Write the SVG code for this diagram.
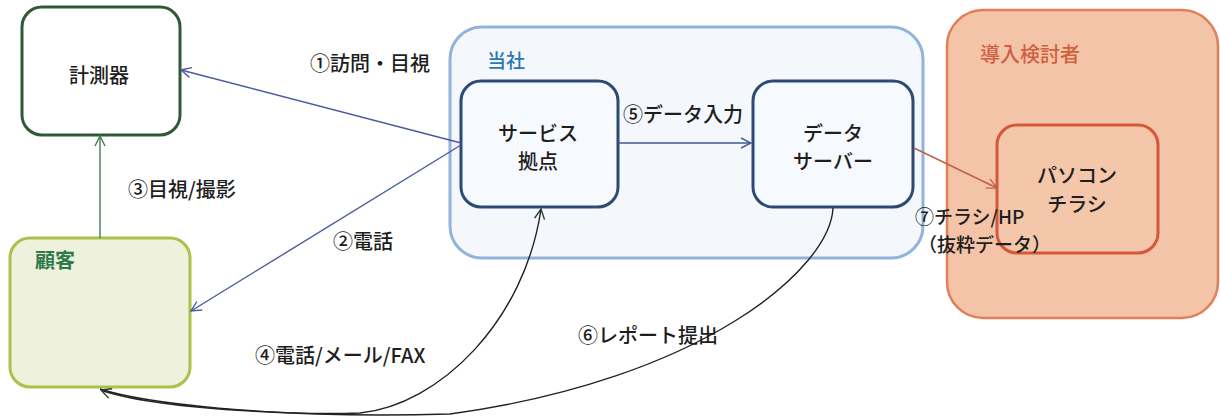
<svg xmlns="http://www.w3.org/2000/svg" width="1220" height="417" viewBox="0 0 1220 417">
<style>
text{font-family:"Noto Sans CJK JP","Noto Sans",sans-serif;fill:#1e1e1e;font-weight:500}
.lbl{font-size:20px}
.sm{font-size:19px}
.nd{font-size:20px;text-anchor:middle}
.box{stroke-width:3}
.con{fill:none;stroke-width:1.4}
</style>
<defs>
<marker id="ab" viewBox="0 0 12 12" refX="11" refY="6" markerWidth="12" markerHeight="12" markerUnits="userSpaceOnUse" orient="auto"><path d="M1,1 L11,6 L1,11" fill="none" stroke="#4a5aa0" stroke-width="1.4"/></marker>
<marker id="ag" viewBox="0 0 12 12" refX="11" refY="6" markerWidth="12" markerHeight="12" markerUnits="userSpaceOnUse" orient="auto"><path d="M1,1 L11,6 L1,11" fill="none" stroke="#3f7f55" stroke-width="1.4"/></marker>
<marker id="ar" viewBox="0 0 12 12" refX="11" refY="6" markerWidth="12" markerHeight="12" markerUnits="userSpaceOnUse" orient="auto"><path d="M1,1 L11,6 L1,11" fill="none" stroke="#c06048" stroke-width="1.4"/></marker>
<marker id="ak" viewBox="0 0 12 12" refX="11" refY="6" markerWidth="12" markerHeight="12" markerUnits="userSpaceOnUse" orient="auto"><path d="M1,1 L11,6 L1,11" fill="none" stroke="#2a3a2a" stroke-width="1.4"/></marker>
</defs>
<rect width="1220" height="417" fill="#ffffff"/>
<g id="touroku">
<rect x="947" y="10" width="271" height="308" rx="36" fill="#f3c4a8" stroke="#e0805a" stroke-width="2.5"/>
<text x="980" y="62" style="font-size:20px;fill:#d0603f">導入検討者</text>
</g>
<g id="tousha">
<rect x="450" y="27" width="473" height="231" rx="32" fill="#f4f8fd" stroke="#93b4da" stroke-width="3"/>
<text x="487" y="68" style="font-size:19px;fill:#2a78b0">当社</text>
</g>
<g id="keisokuki">
<rect x="22" y="7" width="158" height="128" rx="20" fill="#ffffff" stroke="#2f5a35" class="box"/>
<text x="99" y="83" class="nd">計測器</text>
</g>
<g id="kokyaku">
<rect x="10" y="238" width="180" height="149" rx="20" fill="#eef1dc" stroke="#a9c24a" class="box"/>
<text x="35" y="268" style="font-size:20px;fill:#2e7a4a;font-weight:bold">顧客</text>
</g>
<g id="service">
<rect x="461" y="81" width="157" height="126" rx="20" fill="#f6f9fd" stroke="#2c4a72" class="box"/>
<text x="538" y="141" class="nd">サービス</text>
<text x="538" y="169" class="nd">拠点</text>
</g>
<g id="dataserver">
<rect x="753" y="81" width="160" height="126" rx="20" fill="#f6f9fd" stroke="#2c4a72" class="box"/>
<text x="833" y="141" class="nd">データ</text>
<text x="833" y="169" class="nd">サーバー</text>
</g>
<g id="pc">
<rect x="997" y="125" width="161" height="128" rx="20" fill="#f4c6aa" stroke="#d4583a" class="box"/>
<text x="1077" y="183" class="nd">パソコン</text>
<text x="1077" y="212" class="nd">チラシ</text>
</g>
<g id="connectors">
<line x1="461" y1="143" x2="181" y2="70" class="con" stroke="#4a5aa0" marker-end="url(#ab)"/>
<line x1="461" y1="145" x2="191" y2="311" class="con" stroke="#4a5aa0" marker-end="url(#ab)"/>
<line x1="100" y1="238" x2="100" y2="136" class="con" stroke="#3f7f55" marker-end="url(#ag)"/>
<line x1="619" y1="143" x2="751" y2="143" class="con" stroke="#3c5a90" marker-end="url(#ab)"/>
<line x1="914" y1="148" x2="997" y2="188" class="con" stroke="#c06048" marker-end="url(#ar)"/>
<path d="M100,389 C150,405 280,416 360,413 C440,405 525,320 541,209" class="con" stroke="#222" marker-end="url(#ak)"/>
<path d="M833,208 C830,270 700,380 450,414 C300,418 150,408 101,390" class="con" stroke="#222" marker-end="url(#ak)"/>
<text x="310" y="71" class="lbl">①訪問・目視</text>
<text x="333" y="249" class="lbl">②電話</text>
<text x="128" y="197" class="lbl">③目視/撮影</text>
<text x="255" y="363" class="lbl">④電話/メール/FAX</text>
<text x="623" y="122" class="lbl">⑤データ入力</text>
<text x="578" y="343" class="lbl">⑥レポート提出</text>
<text x="915" y="224" class="sm">⑦チラシ/HP</text>
<text x="918" y="252" class="sm">（抜粋データ）</text>
</g>
</svg>
